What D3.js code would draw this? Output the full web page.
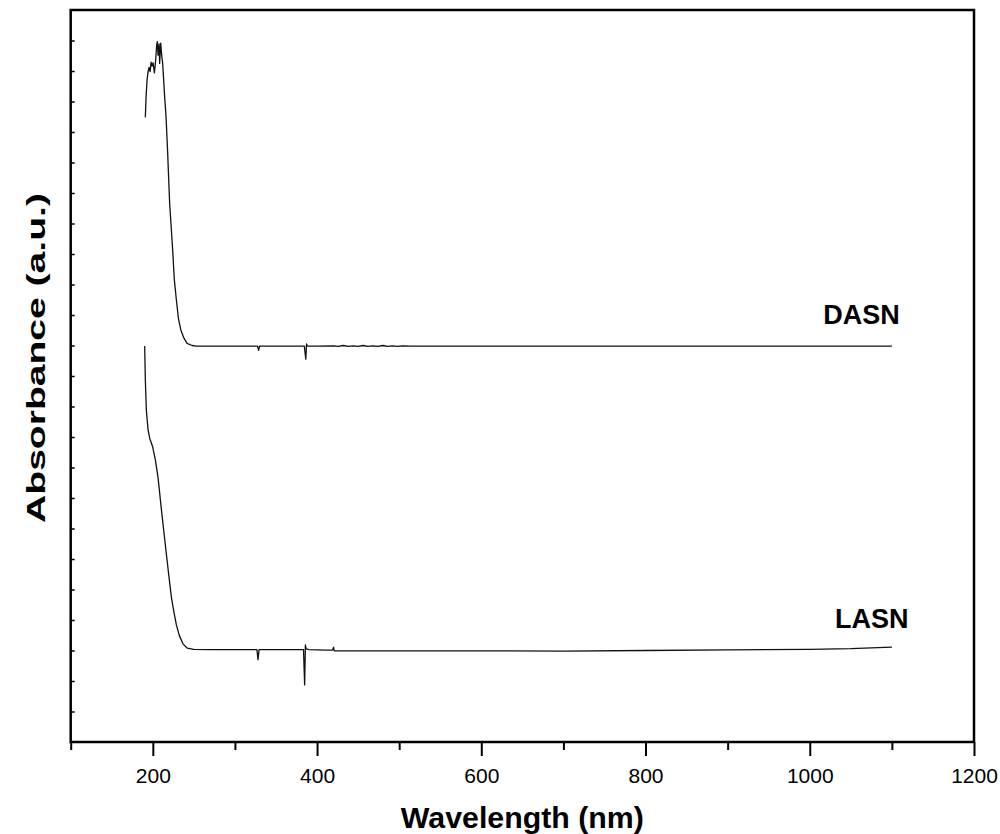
<!DOCTYPE html>
<html>
<head>
<meta charset="utf-8">
<script src="https://cdn.jsdelivr.net/npm/d3@7"></script>
<style>
  html, body { margin: 0; padding: 0; background: #fff; }
  svg { display: block; }
  text { font-family: Arial, "Liberation Sans", Helvetica, sans-serif; fill: #000; }
</style>
</head>
<body>
<svg id="chart" width="1000" height="834"></svg>
<script>
// UV-Vis absorbance spectra (arbitrary units, offset traces)
const dasnWavelength = [190.9, 191.8, 193.0, 194.2, 195.4, 196.7, 197.9, 199.1, 200.3, 201.9,
  203.5, 204.7, 205.5, 206.4, 207.6, 208.3, 209.6, 210.8, 212.0, 213.2, 214.4, 216.1, 217.3,
  218.1, 220.5, 223.4, 224.4, 226.2, 228.7, 231.1, 234.1, 237.6, 241.7, 247.8, 253, 270, 300,
  327.5, 328.8, 330, 360, 384.5, 386.3, 387.2, 388.2, 390, 400, 420, 426, 432, 438, 444, 450,
  456, 462, 468, 474, 480, 486, 492, 498, 504, 513, 550, 600, 700, 800, 900, 1000, 1100];
const dasnAbsorbance = [2.048, 2.116, 2.170, 2.198, 2.212, 2.198, 2.229, 2.216, 2.227, 2.194,
  2.236, 2.285, 2.296, 2.252, 2.289, 2.225, 2.291, 2.252, 2.225, 2.170, 2.116, 2.050, 1.979,
  1.930, 1.766, 1.646, 1.603, 1.515, 1.449, 1.390, 1.351, 1.326, 1.307, 1.300, 1.298, 1.298, 1.298,
  1.298, 1.284, 1.298, 1.298, 1.298, 1.255, 1.305, 1.298, 1.298, 1.298, 1.299, 1.297, 1.300,
  1.297, 1.299, 1.297, 1.300, 1.297, 1.299, 1.297, 1.300, 1.297, 1.299, 1.297, 1.299, 1.298,
  1.298, 1.298, 1.298, 1.298, 1.298, 1.298, 1.298];

const lasnWavelength = [190.1, 190.9, 192.1, 194.2, 196.2, 199.8, 203.1, 206.4, 210.5, 214.7,
  219.0, 222.6, 225.7, 228.7, 232.4, 236.9, 241.8, 249.8, 270, 300, 326.8, 328.1, 329.4,
  360, 383.5, 384.9, 385.8, 386.8, 390, 400, 410, 419, 420, 421, 450, 500, 600, 700, 800, 900,
  1000, 1050, 1100];
const lasnAbsorbance = [1.298, 1.187, 1.089, 1.023, 0.996, 0.968, 0.925, 0.866, 0.761, 0.659,
  0.557, 0.475, 0.426, 0.384, 0.348, 0.321, 0.308, 0.304, 0.303, 0.303, 0.303, 0.270, 0.303,
  0.303, 0.303, 0.187, 0.318, 0.305, 0.303, 0.302, 0.301, 0.301, 0.311, 0.299, 0.299, 0.299, 0.299,
  0.298, 0.300, 0.302, 0.304, 0.306, 0.311];

const seriesNames = ["DASN", "LASN"];
const labelWavelength = [1016.5, 1030.7];
const labelAbsorbance = [1.370, 0.375];

const majorTicks = [200, 400, 600, 800, 1000, 1200];
const minorTicks = [100, 300, 500, 700, 900, 1100];
const yTicks = d3.range(1, 24).map(i => i / 10);

const xTitle = "Wavelength (nm)";
const yTitle = "Absorbance (a.u.)";

// Layout
const plot = { left: 70.7, right: 974, top: 10, bottom: 742 };
const svg = d3.select("#chart");

const x = d3.scaleLinear().domain([100, 1200]).range([plot.left, plot.right]);
const y = d3.scaleLinear().domain([0, 2.4]).range([plot.bottom, plot.top]);

// Spectra
const line = d3.line().x(d => x(d[0])).y(d => y(d[1]));
const traces = [
  d3.zip(dasnWavelength, dasnAbsorbance),
  d3.zip(lasnWavelength, lasnAbsorbance)
];
svg.append("g").selectAll("path").data(traces).join("path")
  .attr("d", line)
  .attr("fill", "none")
  .attr("stroke", "#111")
  .attr("stroke-width", 1.3)
  .attr("stroke-linejoin", "round");

// Left axis: small inward ticks, no labels
const yAxis = svg.append("g")
  .attr("transform", `translate(${plot.left},0)`)
  .call(d3.axisLeft(y).tickValues(yTicks).tickSize(-4).tickFormat(""));
yAxis.select(".domain").remove();
yAxis.selectAll("line").attr("stroke", "#000").attr("stroke-width", 1.5);

// Bottom axis: major labelled ticks and minor ticks pointing outward
const xMajor = svg.append("g")
  .attr("transform", `translate(0,${plot.bottom})`)
  .call(d3.axisBottom(x).tickValues(majorTicks).tickSize(14).tickPadding(12).tickFormat(d3.format("d")));
xMajor.select(".domain").remove();
xMajor.selectAll("line").attr("stroke", "#000").attr("stroke-width", 2);
xMajor.selectAll("text")
  .style("font-family", "Arial, 'Liberation Sans', Helvetica, sans-serif")
  .style("font-size", "21px");

const xMinor = svg.append("g")
  .attr("transform", `translate(0,${plot.bottom})`)
  .call(d3.axisBottom(x).tickValues(minorTicks).tickSize(8).tickFormat(""));
xMinor.select(".domain").remove();
xMinor.selectAll("line").attr("stroke", "#000").attr("stroke-width", 2);

// Frame
svg.append("rect")
  .attr("x", plot.left).attr("y", plot.top)
  .attr("width", plot.right - plot.left).attr("height", plot.bottom - plot.top)
  .attr("fill", "none").attr("stroke", "#000").attr("stroke-width", 2.5);

// Series labels
svg.append("g").selectAll("text").data(seriesNames).join("text")
  .attr("x", (d, i) => x(labelWavelength[i]))
  .attr("y", (d, i) => y(labelAbsorbance[i]))
  .attr("font-size", 27)
  .attr("font-weight", "bold")
  .text(d => d);

// Axis titles
svg.append("text")
  .attr("x", (plot.left + plot.right) / 2)
  .attr("y", 828)
  .attr("text-anchor", "middle")
  .attr("font-size", 29)
  .attr("font-weight", "bold")
  .attr("textLength", 243)
  .attr("lengthAdjust", "spacingAndGlyphs")
  .text(xTitle);

// Vertical title: glyphs stretched along the reading direction to span 330px
const yLabel = svg.append("text")
  .attr("text-anchor", "middle")
  .attr("font-size", 25)
  .attr("font-weight", "bold")
  .text(yTitle);
const natural = yLabel.node().getComputedTextLength() || 211;
yLabel.attr("transform", `translate(45,358) rotate(-90) scale(${330 / natural},1)`);
</script>
</body>
</html>
